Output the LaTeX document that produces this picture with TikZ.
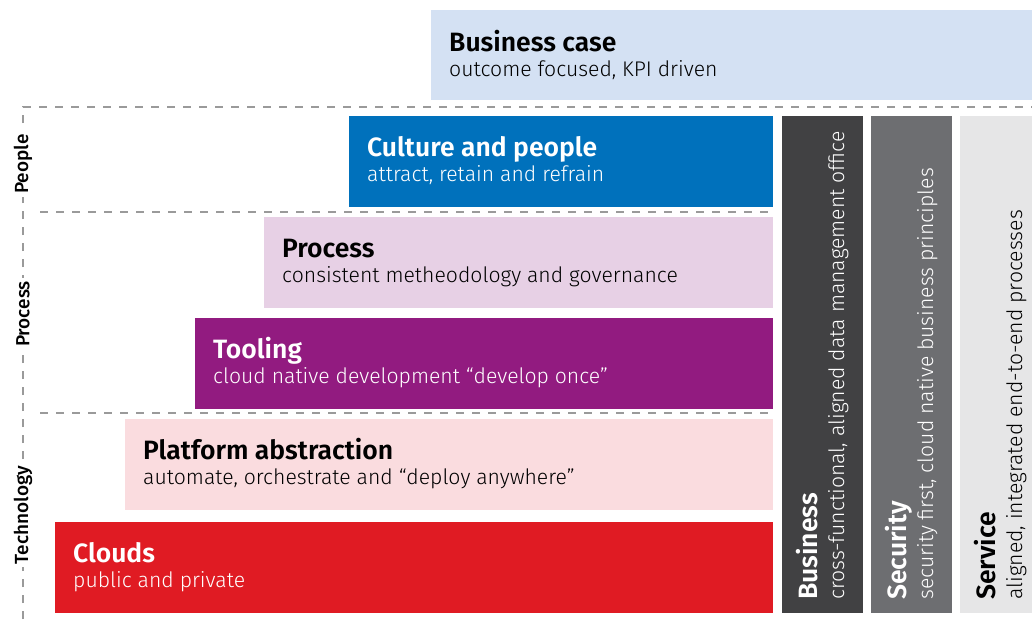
\documentclass[tikz,border=0pt]{standalone}
\usepackage{fontspec}
\setmainfont{Fira Sans Light}[BoldFont={Fira Sans SemiBold}]
\newfontfamily\labfont{Fira Sans Medium}
\usetikzlibrary{positioning}

\definecolor{bcase}{HTML}{D4E1F3}
\definecolor{culture}{HTML}{0071BC}
\definecolor{process}{HTML}{E7D0E5}
\definecolor{tooling}{HTML}{921B80}
\definecolor{platform}{HTML}{FADCDF}
\definecolor{clouds}{HTML}{E01B23}
\definecolor{business}{HTML}{414143}
\definecolor{security}{HTML}{6D6E71}
\definecolor{service}{HTML}{E6E6E7}
\definecolor{sepgray}{HTML}{9A9A9A}

\begin{document}
\begin{tikzpicture}[x=1pt,y=-1pt,
  box/.style={anchor=north west,inner sep=0pt,outer sep=0pt,minimum height=91pt},
  ttl/.style={anchor=base west,inner sep=0pt,font=\bfseries\fontsize{26.5}{30}\selectfont},
  sub/.style={anchor=base west,inner sep=0pt,font=\fontsize{21.2}{24}\selectfont},
  sepline/.style={sepgray,line width=1.4pt,dash pattern=on 8pt off 8pt},
  side/.style={rotate=90,fill=white,inner sep=3pt,font=\labfont\fontsize{19}{22}\selectfont}]
\useasboundingbox (0,0) rectangle (1032,619);
\draw[sepline] (23,619) -- (23,107) -- (1032,107);
\draw[sepline] (40,212) -- (773,212);
\draw[sepline] (40,413) -- (773,413);
\node[side] (peop) at (23,164) {People};
\node[side] (proc-l) at (23,314) {Process};
\node[side] (tech) at (23,515) {Technology};
\node[box,fill=bcase,minimum width=601pt,minimum height=90pt] (bcase) at (431,10) {};
\node[ttl] (bcase-t) at ([xshift=18pt,yshift=-41pt]bcase.north west) {Business case};
\node[sub] (bcase-s) at ([xshift=18pt,yshift=-66pt]bcase.north west) {outcome focused, KPI driven};
\foreach \n/\x/\y/\c/\tc/\t/\s in {
  cult/349/116/culture/white/{Culture and people}/{attract, retain and refrain},
  proc/264/217/process/black/Process/{consistent metheodology and governance},
  tool/195/318/tooling/white/Tooling/{cloud native development “develop once”},
  plat/125/419/platform/black/{Platform abstraction}/{automate, orchestrate and “deploy anywhere”},
  clou/55/522/clouds/white/Clouds/{public and private}}{
  \pgfmathsetmacro\w{773-\x}
  \node[box,fill=\c,minimum width=\w pt] (\n) at (\x,\y) {};
  \node[ttl,text=\tc] (\n-t) at ([xshift=18pt,yshift=-40pt]\n.north west) {\t};
  \node[sub,text=\tc] (\n-s) at ([xshift=18pt,yshift=-65pt]\n.north west) {\s};
}
\foreach \n/\x/\w/\c/\tc/\t/\s in {
  busi/782/81/business/white/Business/{cross-functional, aligned data management office},
  secu/871/81/security/white/Security/{security first, cloud native business principles},
  serv/960/72/service/black/Service/{aligned, integrated end-to-end processes}}{
  \node[box,fill=\c,minimum width=\w pt,minimum height=497pt] (\n) at (\x,116) {};
  \node[ttl,text=\tc,rotate=90] (\n-t) at ([xshift=35pt,yshift=13pt]\n.south west) {\t};
  \node[sub,text=\tc,rotate=90] (\n-s) at ([xshift=62pt,yshift=13pt]\n.south west) {\s};
}
\end{tikzpicture}
\end{document}
